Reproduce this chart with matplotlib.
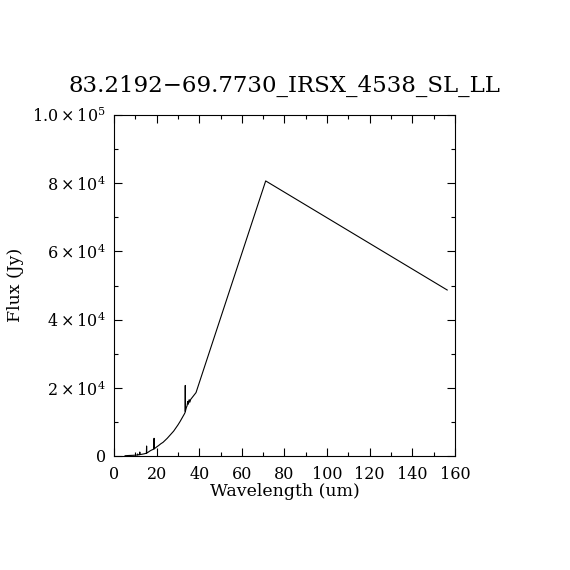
import numpy as np
import matplotlib
matplotlib.use("Agg")
import matplotlib.pyplot as plt
from matplotlib.ticker import MultipleLocator, FixedLocator

# --- datos ---
# espectro IRS (SL + LL), longitud de onda en um, flujo en Jy
wave_irs = [5.2, 7.0, 9.0, 10.0, 11.0, 11.1, 11.2, 12.0, 12.1, 12.2, 13.0, 14.0,
            15.2, 15.3, 15.4, 16.0, 16.8, 17.5, 18.2, 18.75, 18.8, 18.85, 19.5,
            20.0, 21.0, 22.0, 23.0, 24.0, 25.0, 26.0, 27.0, 28.0, 29.0, 30.0,
            31.0, 32.0, 33.0, 33.4, 33.45, 33.5, 34.0, 34.3, 34.6, 34.9, 35.3,
            35.6, 36.0, 37.0, 38.0, 38.5]
flux_irs = [80, 150, 200, 250, 300, 600, 320, 380, 1170, 420, 500, 620,
            800, 2930, 850, 1100, 1450, 1700, 1900, 2050, 5190, 2100, 2400,
            2650, 3100, 3600, 4000, 4600, 5200, 5900, 6600, 7300, 8200, 9100,
            10100, 11200, 12300, 12800, 20700, 13100, 14300, 14700, 16000, 15200, 16500,
            15800, 16600, 17400, 18200, 18600]
# puntos fotometricos de largo alcance
wave_phot = [71.2, 156.4]
flux_phot = [80700, 48700]

title = "83.2192\u221269.7730_IRSX_4538_SL_LL"
ytick_vals = [0, 20000, 40000, 60000, 80000, 100000]
ytick_txt = ["0", r"$2\times10^{4}$", r"$4\times10^{4}$", r"$6\times10^{4}$",
             r"$8\times10^{4}$", r"$1.0\times10^{5}$"]

plt.rcParams['font.family'] = ['DejaVu Serif']
plt.rcParams['mathtext.fontset'] = 'dejavuserif'

wave = wave_irs + wave_phot
flux = flux_irs + flux_phot

fig = plt.figure(figsize=(5.7, 5.7), dpi=100)
ax = fig.add_axes([0.2, 0.2, 0.598, 0.598])
ax.plot(wave, flux, color='black', lw=0.8)

ax.set_xlim(0, 160)
ax.set_ylim(0, 100000)
ax.xaxis.set_major_locator(MultipleLocator(20))
ax.xaxis.set_minor_locator(MultipleLocator(10))
ax.yaxis.set_major_locator(FixedLocator(ytick_vals))
ax.yaxis.set_minor_locator(MultipleLocator(10000))
ax.set_yticklabels(ytick_txt)

ax.tick_params(which='both', direction='in', top=True, right=True,
               width=0.8, labelsize=11.5, colors='black')
ax.tick_params(which='major', length=6)
ax.tick_params(which='minor', length=3)
ax.tick_params(axis='x', pad=7)
ax.tick_params(axis='y', pad=6)
for s in ax.spines.values():
    s.set_linewidth(0.8)

ax.set_title(title, fontsize=16.5, pad=17)
fig.text(0.5, 0.137, "Wavelength (um)", ha='center', va='center', fontsize=12.5)
fig.text(0.027, 0.5, "Flux (Jy)", ha='center', va='center', rotation=90, fontsize=12.5)

fig.savefig("out.png", dpi=100, facecolor='white')
